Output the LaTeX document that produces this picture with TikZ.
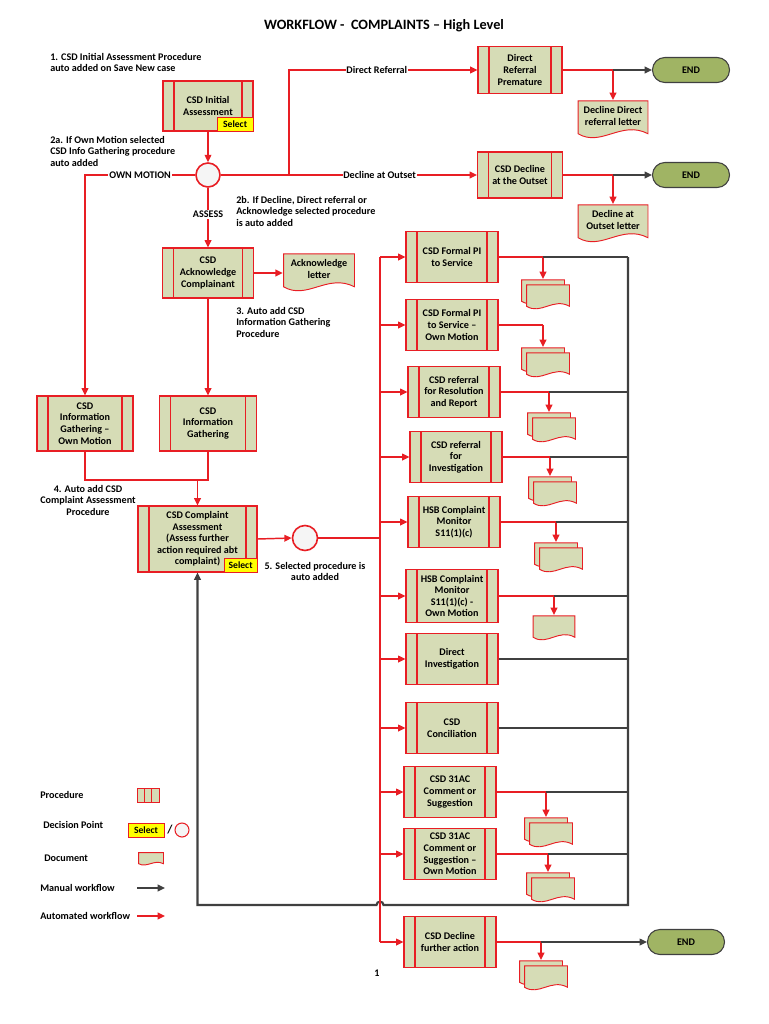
\documentclass[tikz,border=0pt]{standalone}
\usepackage{fontspec}
\setmainfont{Carlito}
\usepackage{tikz}
\usetikzlibrary{calc,positioning,arrows.meta}
\definecolor{CPRed}{RGB}{232,30,36}
\definecolor{CPFill}{RGB}{214,220,182}
\definecolor{CPEnd}{RGB}{160,180,100}
\definecolor{CPGrey}{RGB}{64,64,64}
\definecolor{CPYellow}{RGB}{255,255,0}

\begin{document}
\begin{tikzpicture}[x=0.75pt,y=-0.75pt,>={Triangle[length=5.5pt,width=5pt]},
  every node/.style={font=\fontsize{7.6}{8.7}\selectfont\bfseries},
  proc/.style={draw=CPRed,fill=CPFill,line width=0.8pt,align=center,inner sep=1pt,
    path picture={\draw[CPRed,line width=0.8pt] ([xshift=#1]path picture bounding box.north west)--([xshift=#1]path picture bounding box.south west) ([xshift=-#1]path picture bounding box.north east)--([xshift=-#1]path picture bounding box.south east);}},
  proc/.default=8.25pt,
  rproc/.style={proc,minimum width=69pt,minimum height=38.25pt},
  doc/.style={align=center,inner sep=1pt,
    path picture={\filldraw[draw=CPRed,fill=CPFill,line width=0.7pt] let \p1=([shift={(0.4pt,0.4pt)}]path picture bounding box.south west),\p2=([shift={(-0.4pt,-0.4pt)}]path picture bounding box.north east) in (\x1,\y2)--(\x2,\y2)--(\x2,{\y1+0.14*(\y2-\y1)}) .. controls ({\x1+0.62*(\x2-\x1)},{\y1+0.5*(\y2-\y1)}) and ({\x1+0.33*(\x2-\x1)},{\y1-0.22*(\y2-\y1)}) .. (\x1,{\y1+0.14*(\y2-\y1)})--cycle;}},
  sdoc/.style={doc,minimum width=33pt,minimum height=19.5pt},
  tdoc/.style={doc,minimum width=53.25pt,minimum height=29.5pt,text depth=6pt},
  endn/.style={draw=CPGrey,fill=CPEnd,line width=0.8pt,rounded corners=9.3pt,minimum width=57.75pt,minimum height=18.75pt},
  dec/.style={circle,draw=CPRed,fill=black!4,line width=1.2pt,minimum size=18pt,inner sep=0pt},
  seltag/.style={draw=CPRed,fill=CPYellow,line width=0.6pt,inner sep=0pt,minimum width=27pt,minimum height=10.5pt,font=\fontsize{7.2}{8}\selectfont\bfseries},
  note/.style={align=left,inner sep=0pt,anchor=north west},
  lbl/.style={fill=white,inner sep=0.6pt},
  autoflow/.style={draw=CPRed,line width=1.1pt},
  manual/.style={draw=CPGrey,line width=1.1pt}]
\useasboundingbox (0,0) rectangle (768,1024);
\node[font=\fontsize{10.7}{12}\selectfont\bfseries] (title) at (384,26) {WORKFLOW -~ COMPLAINTS – High Level};
\node[note] (n1) at (50,53) {1. CSD Initial Assessment Procedure\\auto added on Save New case};
\node[note] (n2a) at (50,136) {2a. If Own Motion selected\\CSD Info Gathering procedure\\auto added};
\node[note] (n2b) at (236,196) {2b. If Decline, Direct referral or\\Acknowledge selected procedure\\is auto added};
\node[note] (n3) at (236,307) {3. Auto add CSD\\Information Gathering\\Procedure};
\node[note,anchor=north,align=center] (n4) at (88,485) {4. Auto add CSD\\Complaint Assessment\\Procedure};
\node[note,anchor=north,align=center] (n5) at (315,562) {5. Selected procedure is\\auto added};
\node (pg) at (377,973) {1};

\node[proc,minimum width=67.5pt,minimum height=37.5pt] (ini) at (208,106) {CSD Initial\\Assessment};
\node[seltag,anchor=south east] (selini) at (ini.south east) {Select};
\node[dec] (dcs1) at (208,175) {};
\node[proc,minimum width=63pt,minimum height=35.25pt] (drp) at (520,70) {Direct\\Referral\\Premature};
\node[proc,minimum width=63.75pt,minimum height=34.5pt] (dao) at (520,175) {CSD Decline\\at the Outset};
\node[endn] (end1) at (691,70) {END}; \node[endn] (end2) at (691,175) {END};
\node[tdoc,anchor=north] (ldrp) at (613,100) {Decline Direct\\referral letter};
\node[tdoc,anchor=north] (ldao) at (613,204) {Decline at\\Outset letter};
\node[proc,minimum width=68.25pt,minimum height=37.5pt] (ack) at (208,273) {CSD\\Acknowledge\\Complainant};
\node[tdoc,minimum width=54pt] (lack) at (319,273) {Acknowledge\\letter};
\node[proc,minimum width=72.75pt,minimum height=41.25pt] (info) at (208,423.5) {CSD\\Information\\Gathering};
\node[proc,minimum width=72pt,minimum height=41.25pt] (infoom) at (85,423.5) {CSD\\Information\\Gathering –\\Own Motion};
\node[proc,minimum width=89.25pt,minimum height=49.5pt] (assess) at (197.5,539) {CSD Complaint\\Assessment\\(Assess further\\action required abt\\complaint)};
\node[seltag,minimum width=24.75pt,anchor=south east] (selass) at (assess.south east) {Select};
\node[dec,minimum size=18.75pt] (dcs2) at (305,538) {};

\node[rproc] (fpi) at (452,257) {CSD Formal PI\\to Service};
\node[rproc] (fpiom) at (452,325) {CSD Formal PI\\to Service –\\Own Motion};
\node[rproc] (rrr) at (454,392) {CSD referral\\for Resolution\\and Report};
\node[rproc] (inv) at (456,457) {CSD referral\\for\\Investigation};
\node[rproc] (hsb) at (454,522) {HSB Complaint\\Monitor\\S11(1)(c)};
\node[rproc,minimum height=39.75pt] (hsbom) at (452,596) {HSB Complaint\\Monitor\\S11(1)(c) -\\Own Motion};
\node[rproc] (dinv) at (452,659) {Direct\\Investigation};
\node[rproc] (conc) at (452,728) {CSD\\Conciliation};
\node[rproc] (c31) at (450,792) {CSD 31AC\\Comment or\\Suggestion};
\node[rproc] (c31om) at (450,854) {CSD 31AC\\Comment or\\Suggestion –\\Own Motion};
\node[rproc] (dfa) at (450,942) {CSD Decline\\further action};
\node[endn] (end3) at (686,942) {END};

\coordinate (br1) at (289,175); \coordinate (mrg) at (197.5,480); \coordinate (abus) at (380,538);
\coordinate (rbus) at (628,257); \coordinate (rbot) at (628,905); \coordinate (hop) at (380,905); \coordinate (lbot) at (197.5,905);

\draw[autoflow,->] (ini.south) -- (dcs1.north);
\draw[autoflow,->] (dcs1.west) -| node[lbl,pos=0.25] {OWN MOTION} (infoom.north);
\draw[autoflow,->] (dcs1.south) -- node[lbl,pos=0.45] {ASSESS} (ack.north);
\draw[autoflow,->] (dcs1.east) -- node[lbl,pos=0.62] {Decline at Outset} (dao.west);
\draw[autoflow,->] (br1) |- node[lbl,pos=0.733] {Direct Referral} (drp.west);
\foreach \p in {drp,dao}{
  \coordinate (x\p) at (l\p.north |- \p.east);
  \draw[autoflow] (\p.east) -- (x\p); \draw[autoflow,->] (x\p) -- (l\p.north);
}
\draw[manual,->] (xdrp) -- (end1.west); \draw[manual,->] (xdao) -- (end2.west);
\draw[autoflow,->] (ack.east) -- (lack.west);
\draw[autoflow,->] (ack.south) -- (info.north);
\draw[autoflow] (infoom.south) |- (mrg); \draw[autoflow] (info.south) |- (mrg);
\draw[autoflow,->] (mrg) -- (assess.north);
\draw[autoflow,->] (assess.east) -- (dcs2.west);
\draw[autoflow] (dcs2.east) -- (abus);

\draw[manual,line width=1.6pt,->] (rbus) -- (rbot) -- ([xshift=2.6pt]hop) arc[start angle=0,end angle=180,radius=2.6pt] -- (lbot) -- (assess.south);
\draw[autoflow] (fpi.west -| abus) -- (dfa.west -| abus);
\foreach \p in {fpi,fpiom,rrr,inv,hsb,hsbom,dinv,conc,c31,c31om,dfa}
  \draw[autoflow,->] (\p.west -| abus) -- (\p.west);
\foreach \p/\ax/\ty in {fpi/543/279,fpiom/543/347,rrr/549/412,inv/550/476,hsb/556/542,c31/546/817,c31om/548/872,dfa/541/960}{
  \node[sdoc,anchor=north] (dk\p) at (\ax,\ty) {};
  \node[sdoc,anchor=north west] (df\p) at ([shift={(5,5)}]dk\p.north west) {};
  \coordinate (x\p) at (dk\p.north |- \p.east);
  \draw[autoflow] (\p.east) -- (x\p); \draw[autoflow,->] (x\p) -- (dk\p.north);
}
\node[sdoc,minimum width=32pt,anchor=north] (dkhsbom) at (554,615) {};
\coordinate (xhsbom) at (dkhsbom.north |- hsbom.east);
\draw[autoflow] (hsbom.east) -- (xhsbom); \draw[autoflow,->] (xhsbom) -- (dkhsbom.north);
\foreach \p in {fpi,rrr,inv,hsb,hsbom,c31,c31om}
  \draw[manual] (x\p) -- (x\p -| rbus);
\draw[manual] (dinv.east) -- (dinv.east -| rbus); \draw[manual] (conc.east) -- (conc.east -| rbus);
\draw[manual,->] (xdfa) -- (end3.west);

\node[anchor=west,inner sep=0pt] (lgt1) at (40,795) {Procedure};
\node[anchor=west,inner sep=0pt] (lgt2) at (43,825) {Decision Point};
\node[anchor=west,inner sep=0pt] (lgt3) at (44,858) {Document};
\node[anchor=west,inner sep=0pt] (lgt4) at (40,888) {Manual workflow};
\node[anchor=west,inner sep=0pt] (lgt5) at (40,916) {Automated workflow};
\node[proc=5.5pt,minimum width=16.5pt,minimum height=10.5pt,line width=0.6pt] (lgproc) at (148,795) {};
\node[seltag] (lgsel) at (146,830.5) {Select};
\node[font=\fontsize{9}{10}\selectfont\bfseries] (lgslash) at (170,830) {/};
\node[dec,minimum size=10.5pt,line width=0.8pt] (lgdec) at (182,830) {};
\node[doc,minimum width=19.5pt,minimum height=10.5pt] (lgdoc) at (151,859) {};
\coordinate (lgm1) at (137,888); \coordinate (lgm2) at (165,888);
\coordinate (lga1) at (137,916); \coordinate (lga2) at (165,916);
\draw[manual,->] (lgm1) -- (lgm2); \draw[autoflow,->] (lga1) -- (lga2);
\end{tikzpicture}
\end{document}
